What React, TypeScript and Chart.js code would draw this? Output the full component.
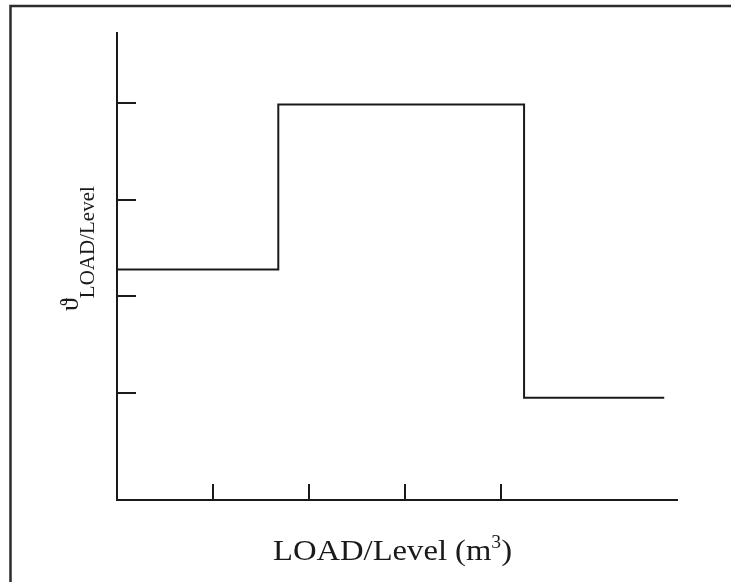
import React, { useEffect, useRef } from "react";
import { Chart, registerables } from "chart.js";

Chart.register(...registerables);

// Data
const stepX = [0, 1.68, 4.24, 5.7];
const stepY = [2.28, 3.99, 0.95, 0.95];
const xTicks = [1, 2, 3, 4];
const yTicks = [1, 2, 3, 4];
const xRange = [0, 5.833];
const yRange = [-0.11, 4.73];
const xTitleMain = "LOAD/Level (m";
const xTitleSup = "3";
const xTitleEnd = ")";
const yTitleMain = "\u03D1";
const yTitleSub = "LOAD/Level";

const INK = "#1a1a1a";
const SERIF = "'Liberation Serif', 'Times New Roman', serif";

const decorPlugin = {
  id: "decor",
  beforeDraw(chart: any) {
    const ctx = chart.ctx;
    ctx.save();
    ctx.fillStyle = "#ffffff";
    ctx.fillRect(0, 0, chart.width, chart.height);
    // page frame (top & left visible)
    ctx.strokeStyle = "#2b2b2b";
    ctx.lineWidth = 2.5;
    ctx.beginPath();
    ctx.moveTo(10.5, chart.height);
    ctx.lineTo(10.5, 6);
    ctx.lineTo(chart.width, 6);
    ctx.stroke();
    ctx.restore();
  },
  afterDraw(chart: any) {
    const ctx = chart.ctx;
    const xs = chart.scales.x;
    const ys = chart.scales.y;
    const area = chart.chartArea;
    ctx.save();
    ctx.strokeStyle = INK;
    ctx.lineWidth = 2;
    ctx.beginPath();
    xTicks.forEach((v) => {
      const px = Math.round(xs.getPixelForValue(v));
      ctx.moveTo(px, area.bottom);
      ctx.lineTo(px, area.bottom - 16);
    });
    yTicks.forEach((v) => {
      const py = Math.round(ys.getPixelForValue(v));
      ctx.moveTo(area.left, py);
      ctx.lineTo(area.left + 19, py);
    });
    ctx.stroke();

    // x title
    ctx.fillStyle = INK;
    ctx.textBaseline = "alphabetic";
    ctx.textAlign = "left";
    const mainFont = `30px ${SERIF}`;
    const supFont = `18px ${SERIF}`;
    ctx.font = mainFont;
    const w1 = ctx.measureText(xTitleMain).width;
    const w3 = ctx.measureText(xTitleEnd).width;
    ctx.font = supFont;
    const w2 = ctx.measureText(xTitleSup).width;
    const total = w1 + w2 + w3;
    const targetW = 239;
    const sx = targetW / total;
    const cx = 392.5;
    const base = 560;
    ctx.save();
    ctx.translate(cx - targetW / 2, base);
    ctx.scale(sx, 1);
    ctx.font = mainFont;
    ctx.fillText(xTitleMain, 0, 0);
    ctx.font = supFont;
    ctx.fillText(xTitleSup, w1, -12);
    ctx.font = mainFont;
    ctx.fillText(xTitleEnd, w1 + w2, 0);
    ctx.restore();

    // y title (rotated)
    ctx.translate(78, 311);
    ctx.rotate(-Math.PI / 2);
    ctx.font = `26px ${SERIF}`;
    const tw = ctx.measureText(yTitleMain).width;
    ctx.fillText(yTitleMain, 0, 0);
    ctx.font = `21px ${SERIF}`;
    ctx.fillText(yTitleSub, tw, 16);
    ctx.restore();
  },
};

export default function App() {
  const ref = useRef<HTMLCanvasElement | null>(null);
  useEffect(() => {
    if (!ref.current) return;
    const chart = new Chart(ref.current, {
      type: "line",
      data: {
        datasets: [
          {
            data: stepX.map((x, i) => ({ x, y: stepY[i] })),
            stepped: true,
            borderColor: INK,
            borderWidth: 2,
            pointRadius: 0,
            fill: false,
            clip: false as any,
          },
        ],
      },
      options: {
        animation: false,
        responsive: false,
        layout: { padding: { left: 117, right: 54, top: 33, bottom: 82 } },
        plugins: { legend: { display: false }, tooltip: { enabled: false } },
        scales: {
          x: {
            type: "linear",
            min: xRange[0],
            max: xRange[1],
            ticks: { display: false },
            grid: { display: false, drawTicks: false, tickLength: 0 },
            border: { display: true, width: 2, color: INK },
            afterFit: (s: any) => {
              s.height = 0;
            },
          },
          y: {
            type: "linear",
            min: yRange[0],
            max: yRange[1],
            ticks: { display: false },
            grid: { display: false, drawTicks: false, tickLength: 0 },
            border: { display: true, width: 2, color: INK },
            afterFit: (s: any) => {
              s.width = 0;
            },
          },
        },
      },
      plugins: [decorPlugin],
    });
    return () => chart.destroy();
  }, []);
  return (
    <div style={{ position: "absolute", left: 0, top: 0, width: 731, height: 582 }}>
      <canvas ref={ref} width={731} height={582} style={{ display: "block" }} />
    </div>
  );
}
